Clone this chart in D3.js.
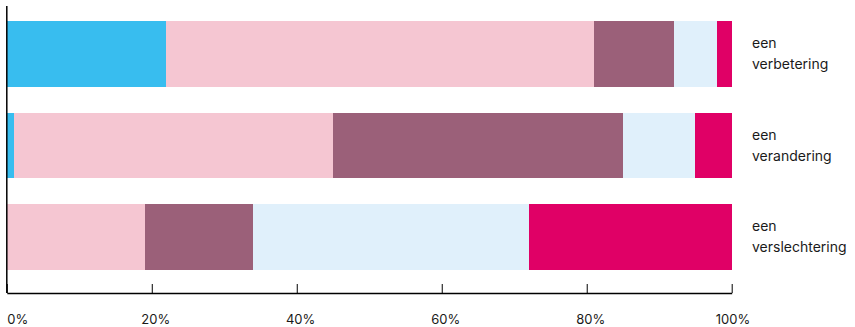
<!DOCTYPE html>
<html>
<head>
<meta charset="utf-8">
<script src="https://cdn.jsdelivr.net/npm/d3@7"></script>
<style>
  html, body { margin: 0; padding: 0; background: #fff; }
  svg { display: block; }
  text { font-family: Inter, "Open Sans", sans-serif; fill: #1a1a1a; }
</style>
</head>
<body>
<svg id="chart" width="855" height="327"></svg>
<script>
// Answer categories (one row each) and the share per response segment, in %
const categories = [["een", "verbetering"], ["een", "verandering"], ["een", "verslechtering"]];
const segmentKeys = ["s1", "s2", "s3", "s4", "s5"];
const segmentColors = ["#38bdef", "#f5c6d2", "#9b6079", "#e0f0fb", "#e00066"];
const s1 = [22, 1, 0];
const s2 = [59, 44, 19];
const s3 = [11, 40, 15];
const s4 = [6, 10, 38];
const s5 = [2, 5, 28];
const tickValues = [0, 20, 40, 60, 80, 100];

const rows = categories.map((c, i) => ({
  key: i, s1: s1[i], s2: s2[i], s3: s3[i], s4: s4[i], s5: s5[i]
}));

const svg = d3.select("#chart");
const x = d3.scaleLinear().domain([0, 100]).range([6.8, 731.7]);
const y = d3.scaleBand().domain(rows.map(r => r.key)).range([21, 270]).paddingInner(0.28).paddingOuter(0);

const stacked = d3.stack().keys(segmentKeys)(rows);
const color = d3.scaleOrdinal().domain(segmentKeys).range(segmentColors);

svg.append("g").selectAll("g")
  .data(stacked).join("g")
  .attr("fill", d => color(d.key))
  .selectAll("rect")
  .data(d => d).join("rect")
  .attr("x", d => x(d[0]))
  .attr("y", d => y(d.data.key))
  .attr("width", d => Math.max(0, x(d[1]) - x(d[0])))
  .attr("height", y.bandwidth())
  .attr("shape-rendering", "crispEdges");

// Left axis line
svg.append("line")
  .attr("x1", x(0)).attr("x2", x(0))
  .attr("y1", 6).attr("y2", 293)
  .attr("stroke", "#000").attr("stroke-width", 1.5);

// Bottom axis with upward ticks; labels sit right-aligned just past each tick
const xAxis = d3.axisBottom(x).tickValues(tickValues).tickFormat(d => d + "%").tickSizeInner(-9).tickSizeOuter(0).tickPadding(22);
const gx = svg.append("g").attr("transform", "translate(0,293)").call(xAxis);
gx.select(".domain").attr("stroke", "#000").attr("stroke-width", 1.5);
gx.selectAll(".tick line").attr("stroke", "#000").attr("stroke-width", 1);
gx.selectAll(".tick text")
  .attr("text-anchor", "end")
  .attr("dx", d => d === 0 ? 21 : 18)
  .style("font-family", "Inter, 'Open Sans', sans-serif")
  .style("font-size", "13px").attr("fill", "#1a1a1a");

// Category labels at the right of each bar
const lab = svg.append("g").selectAll("text")
  .data(rows).join("text")
  .attr("x", 752)
  .attr("y", d => y(d.key) + y.bandwidth() / 2)
  .style("font-size", "14px");
lab.each(function(d) {
  const t = d3.select(this);
  categories[d.key].forEach((line, j) => {
    t.append("tspan").attr("x", 752).attr("dy", j === 0 ? "-0.4em" : "1.5em").text(line);
  });
});
</script>
</body>
</html>
